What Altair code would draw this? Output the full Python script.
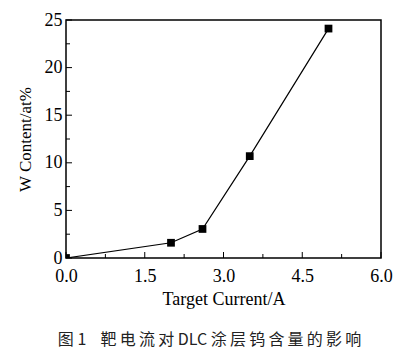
import altair as alt
import pandas as pd

current = [0.0, 2.0, 2.6, 3.5, 5.0]
w_content = [0.0, 1.6, 3.05, 10.7, 24.1]

x_major = [0.0, 1.5, 3.0, 4.5, 6.0]
x_minor = [0.75, 2.25, 3.75, 5.25]
y_major = [0, 5, 10, 15, 20, 25]
y_minor = [2.5, 7.5, 12.5, 17.5, 22.5]

W, H = 315, 238
FONT = "Liberation Serif"
caption = "图\u00a01\u00a0\u00a0\u00a0\u00a0靶\u2009电\u2009流\u2009对\u00a0DLC\u00a0涂\u2009层\u2009钨\u2009含\u2009量\u2009的\u2009影\u2009响"

df = pd.DataFrame({"x": current, "y": w_content})
xs = alt.Scale(domain=[0, 6], nice=False, zero=False)
ys = alt.Scale(domain=[0, 25], nice=False, zero=False)

base = alt.Chart(df)
line = base.mark_line(color="black", strokeWidth=1.2, clip=True).encode(
    x=alt.X("x:Q", scale=xs,
            axis=alt.Axis(values=x_major, format=".1f", title="Target Current/A",
                          ticks=False, domain=False, grid=False,
                          labelFont=FONT, labelFontSize=18, labelColor="black",
                          labelPadding=9, labelFlush=False, labelOverlap=False,
                          titleFont=FONT, titleFontSize=18,
                          titleFontWeight="normal", titleColor="black", titlePadding=5)),
    y=alt.Y("y:Q", scale=ys,
            axis=alt.Axis(values=y_major, title="W Content/at%",
                          ticks=False, domain=False, grid=False,
                          labelFont=FONT, labelFontSize=18, labelColor="black",
                          labelPadding=4, labelFlush=False, labelOverlap=False,
                          titleFont=FONT, titleFontSize=17,
                          titleFontWeight="normal", titleColor="black", titlePadding=10)),
)
pts = base.mark_square(color="black", size=60, opacity=1, clip=True).encode(
    x=alt.X("x:Q", scale=xs), y=alt.Y("y:Q", scale=ys))

def xticks(vals, length):
    return alt.Chart(pd.DataFrame({"x": vals})).mark_rule(color="black", strokeWidth=1).encode(
        x=alt.X("x:Q", scale=xs), y=alt.value(H), y2=alt.value(H - length))

def yticks(vals, length):
    return alt.Chart(pd.DataFrame({"y": vals})).mark_rule(color="black", strokeWidth=1).encode(
        y=alt.Y("y:Q", scale=ys), x=alt.value(0), x2=alt.value(length))

chart = alt.layer(
    xticks(x_major, 6), xticks(x_minor, 4), yticks(y_major, 6), yticks(y_minor, 4),
    line, pts,
).properties(
    width=W, height=H,
    title=alt.TitleParams(caption, orient="bottom",
                          anchor="middle", font="Noto Sans CJK SC", fontSize=16,
                          fontWeight="normal", color="#222222", offset=24, dx=-14),
    autosize=alt.AutoSizeParams(type="none"),
    padding={"left": 66, "top": 20, "right": 30, "bottom": 98},
).configure(font=FONT).configure_view(stroke="black", strokeWidth=1.5)

chart.save("out.html", embed_options={"renderer": "svg", "actions": False})
